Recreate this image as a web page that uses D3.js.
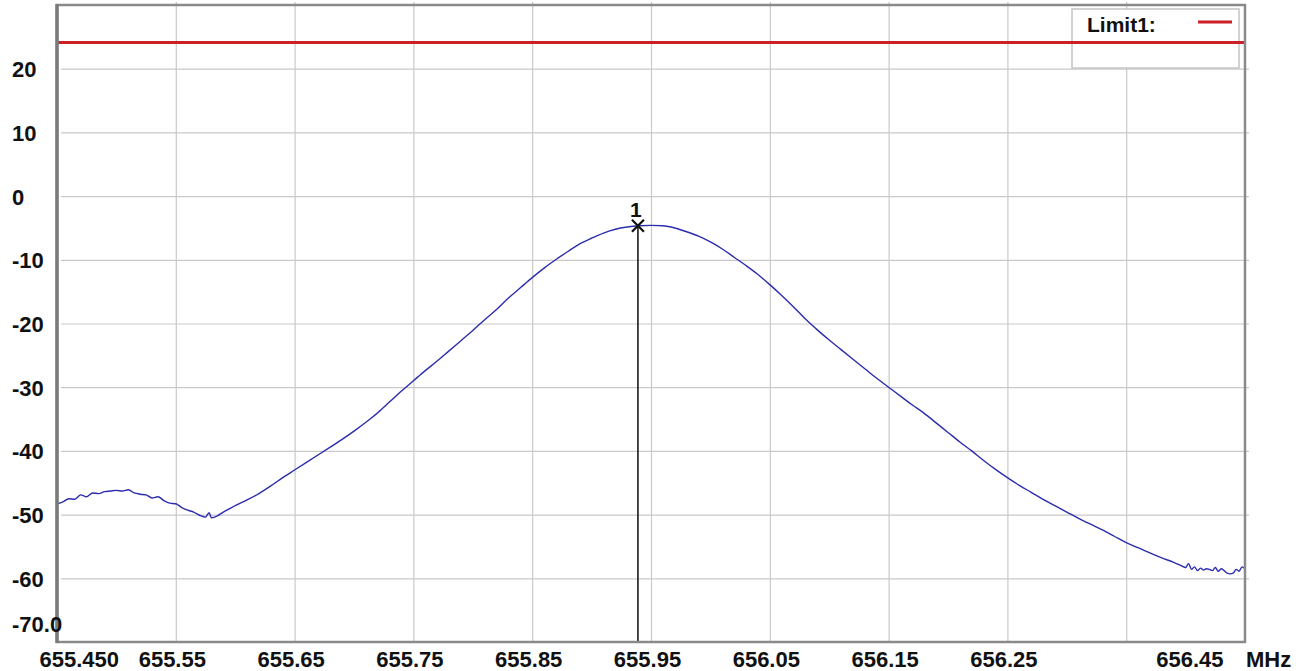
<!DOCTYPE html>
<html>
<head>
<meta charset="utf-8">
<script src="https://cdn.jsdelivr.net/npm/d3@7"></script>
<style>
  html, body { margin: 0; padding: 0; background: #fff; }
  svg { display: block; }
  text { font-family: "Liberation Sans", Arial, sans-serif; font-weight: bold; fill: #111; }
</style>
</head>
<body>
<svg id="chart" width="1309" height="671"></svg>
<script>
// ---------------- data ----------------
const freqs = [
  655.450, 655.455, 655.460, 655.465, 655.470, 655.475, 655.480, 655.485, 655.490, 655.495,
  655.500, 655.505, 655.510, 655.515, 655.520, 655.525, 655.530, 655.535, 655.540, 655.545,
  655.550, 655.555, 655.560, 655.565, 655.570, 655.575, 655.578, 655.580, 655.585, 655.590,
  655.595, 655.600,
  655.61, 655.62, 655.63, 655.64, 655.65, 655.66, 655.67, 655.68, 655.69, 655.70,
  655.71, 655.72, 655.73, 655.74, 655.75, 655.76, 655.77, 655.78, 655.79, 655.80,
  655.81, 655.82, 655.83, 655.84, 655.85, 655.86, 655.87, 655.88, 655.89, 655.90,
  655.91, 655.92, 655.93, 655.94, 655.95, 655.96, 655.97, 655.98, 655.99, 656.00,
  656.01, 656.02, 656.03, 656.04, 656.05, 656.06, 656.07, 656.08, 656.09, 656.10,
  656.11, 656.12, 656.13, 656.14, 656.15, 656.16, 656.17, 656.18, 656.19, 656.20,
  656.21, 656.22, 656.23, 656.24, 656.25, 656.26, 656.27, 656.28, 656.29, 656.30,
  656.31, 656.32, 656.33, 656.34, 656.35, 656.36, 656.37, 656.38, 656.39,
  656.3950, 656.4000, 656.4025, 656.4050, 656.4075, 656.4100, 656.4125, 656.4150, 656.4175,
  656.4200, 656.4225, 656.4250, 656.4275, 656.4300, 656.4325, 656.4350, 656.4375, 656.4400,
  656.4425, 656.4450, 656.4475, 656.4500
];
const levels = [
  -48.3, -48.0, -47.5, -47.6, -46.9, -47.2, -46.6, -46.7, -46.4, -46.3,
  -46.2, -46.3, -46.1, -46.6, -46.8, -46.9, -47.4, -47.2, -47.8, -48.2,
  -48.3, -48.9, -49.3, -49.6, -50.1, -50.4, -49.7, -50.5, -50.2, -49.6,
  -49.1, -48.6,
  -47.7, -46.7, -45.5, -44.2, -43.0, -41.8, -40.6, -39.4, -38.2, -36.9,
  -35.5, -34.0, -32.3, -30.6, -29.0, -27.4, -25.9, -24.3, -22.7, -21.1,
  -19.4, -17.8, -16.0, -14.4, -12.8, -11.3, -9.95, -8.7, -7.5, -6.6,
  -5.8, -5.2, -4.85, -4.66, -4.6, -4.66, -5.0, -5.6, -6.3, -7.2,
  -8.3, -9.6, -10.9, -12.3, -13.9, -15.6, -17.4, -19.3, -21.0, -22.6,
  -24.1, -25.6, -27.1, -28.6, -30.0, -31.4, -32.8, -34.1, -35.6, -37.1,
  -38.6, -40.0, -41.5, -42.9, -44.2, -45.4, -46.5, -47.6, -48.6, -49.6,
  -50.6, -51.5, -52.4, -53.4, -54.4, -55.2, -56.0, -56.8, -57.5,
  -57.9, -58.3, -57.7, -58.6, -58.2, -58.8, -58.4, -58.7, -58.5,
  -58.6, -58.8, -58.3, -58.9, -58.5, -58.8, -59.2, -59.3, -59.2,
  -58.6, -58.9, -58.2, -58.5
];

const xTickValues = [655.45, 655.55, 655.65, 655.75, 655.85, 655.95, 656.05, 656.15, 656.25, 656.45];
const xTickLabels = ["655.450", "655.55", "655.65", "655.75", "655.85", "655.95", "656.05", "656.15", "656.25", "656.45"];
const xGridValues = [655.55, 655.65, 655.75, 655.85, 655.95, 656.05, 656.15, 656.25, 656.35];
const yTickValues = [20, 10, 0, -10, -20, -30, -40, -50, -60, -70];
const yTickLabels = ["20", "10", "0", "-10", "-20", "-30", "-40", "-50", "-60", "-70.0"];
const xUnit = "MHz";
const limitName = "Limit1:";
const limitValue = 24.1;
const markerLabel = "1";
const markerFreq = 655.939;
const markerLevel = -4.66;

// ---------------- layout ----------------
const L = 57, R = 1245, T = 5, B = 642;
const svg = d3.select("#chart");
const x = d3.scaleLinear().domain([655.45, 656.45]).range([L, R]);
const y = d3.scaleLinear().domain([-70, 30]).range([B, T]);

// plot background
svg.append("rect").attr("x", L).attr("y", T).attr("width", R - L).attr("height", B - T).attr("fill", "#fff");

// horizontal grid (via axis)
const yGrid = svg.append("g").attr("transform", `translate(${L},0)`)
  .call(d3.axisLeft(y).tickValues(yTickValues.filter(v => v > -70)).tickSize(-(R - L + 4)).tickFormat(""));
yGrid.select(".domain").remove();
yGrid.selectAll("line").attr("stroke", "#c9c9c9").attr("stroke-width", 1.2).attr("x1", 4);

// vertical grid (via axis)
const xGrid = svg.append("g").attr("transform", `translate(0,${B})`)
  .call(d3.axisBottom(x).tickValues(xGridValues).tickSize(-(B - T + 3)).tickFormat(""));
xGrid.select(".domain").remove();
xGrid.selectAll("line").attr("stroke", "#c9c9c9").attr("stroke-width", 1.2);

// legend box
const lg = svg.append("g");
lg.append("rect").attr("x", 1072).attr("y", 9).attr("width", 167).attr("height", 59)
  .attr("fill", "#fff").attr("stroke", "#c4c4c4").attr("stroke-width", 1.5);
lg.append("text").attr("x", 1087).attr("y", 32).attr("font-size", 21).text(limitName);
lg.append("line").attr("x1", 1198).attr("x2", 1232).attr("y1", 22).attr("y2", 22)
  .attr("stroke", "#cc1f26").attr("stroke-width", 3);

// limit line
svg.append("line").attr("x1", x(655.45)).attr("x2", x(656.45))
  .attr("y1", y(limitValue)).attr("y2", y(limitValue))
  .attr("stroke", "#cc1f26").attr("stroke-width", 3);

// trace
const pts = freqs.map((f, i) => [f, levels[i]]);
svg.append("path").datum(pts)
  .attr("fill", "none").attr("stroke", "#2c2cae").attr("stroke-width", 1.4)
  .attr("stroke-linejoin", "round")
  .attr("d", d3.line().curve(d3.curveMonotoneX).x(d => x(d[0])).y(d => y(d[1])));

// marker
const mx = x(markerFreq), my = y(markerLevel);
svg.append("line").attr("x1", mx).attr("x2", mx).attr("y1", my).attr("y2", B)
  .attr("stroke", "#1a1a1a").attr("stroke-width", 1.6);
const s = 6;
svg.append("path").attr("d", `M${mx - s},${my - s}L${mx + s},${my + s}M${mx - s},${my + s}L${mx + s},${my - s}`)
  .attr("stroke", "#111").attr("stroke-width", 2.2).attr("fill", "none");
svg.append("text").attr("x", mx - 2).attr("y", my - 9).attr("text-anchor", "middle")
  .attr("font-size", 21).text(markerLabel);

// frame
svg.append("rect").attr("x", L).attr("y", T).attr("width", R - L).attr("height", B - T)
  .attr("fill", "none").attr("stroke", "#8a8a8a").attr("stroke-width", 2.5);
svg.append("line").attr("x1", L).attr("x2", L).attr("y1", T - 1).attr("y2", B + 1)
  .attr("stroke", "#7a7a7a").attr("stroke-width", 3.5);

// y axis labels
const yAx = svg.append("g").attr("transform", `translate(${L},0)`)
  .call(d3.axisLeft(y).tickValues(yTickValues).tickSize(0).tickFormat((d, i) => yTickLabels[i]));
yAx.select(".domain").remove();
yAx.selectAll("text")
  .attr("x", 12 - L).attr("dy", null).attr("dominant-baseline", null)
  .attr("text-anchor", "start").attr("font-size", 22)
  .attr("font-family", "Liberation Sans, Arial, sans-serif").attr("font-weight", "bold").attr("fill", "#111")
  .attr("y", d => d === -70 ? -11 : 8);

// x axis labels
const xAx = svg.append("g").attr("transform", `translate(0,${B})`)
  .call(d3.axisBottom(x).tickValues(xTickValues).tickSize(0).tickFormat((d, i) => xTickLabels[i]));
xAx.select(".domain").remove();
xAx.selectAll("text")
  .attr("y", 25).attr("dy", null).attr("font-size", 22)
  .attr("font-family", "Liberation Sans, Arial, sans-serif").attr("font-weight", "bold").attr("fill", "#111")
  .attr("text-anchor", (d, i) => i === 0 ? "start" : (i === xTickValues.length - 1 ? "end" : "middle"))
  .attr("x", (d, i) => i === 0 ? -18 : (i === xTickValues.length - 1 ? -22 : -4));
svg.append("text").attr("x", x(656.45) + 1).attr("y", B + 25).attr("font-size", 22).text(xUnit);
</script>
</body>
</html>
